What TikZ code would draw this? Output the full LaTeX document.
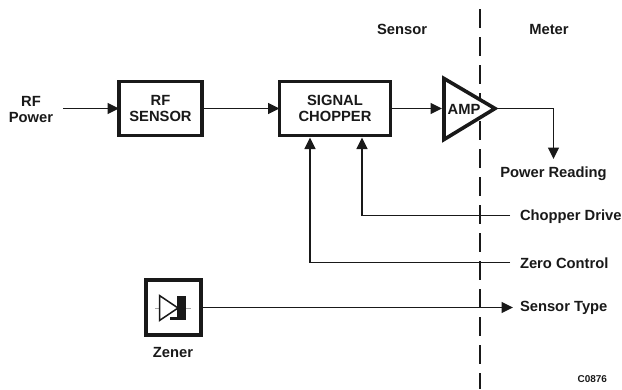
\documentclass[tikz,border=0pt]{standalone}
\usepackage{fontspec}
\setmainfont{Liberation Sans}
\usetikzlibrary{arrows.meta}
\definecolor{ink}{gray}{0.1}
\tikzset{x=1bp,y=-1bp,
 every node/.style={inner sep=0pt,outer sep=0pt,text=ink},
 lbl/.style={font=\fontsize{14.8}{15.5}\selectfont\bfseries,align=center},
 smalllbl/.style={font=\fontsize{10}{12}\selectfont\bfseries},
 blockbox/.style={draw=ink,line width=3.6bp,minimum height=54bp,align=center,font=\fontsize{14.8}{15.5}\selectfont\bfseries,fill=white},
 conn/.style={draw=ink,line width=1.7bp},
 arr/.style={conn,-{Triangle[length=11.5bp,width=11bp]}}}
\begin{document}
\begin{tikzpicture}
\useasboundingbox (0,0) rectangle (622,389);
% dashed boundary
\coordinate (dt) at (480,9);
\coordinate (db) at (480,389);
\draw[draw=ink,line width=1.8bp,dash pattern=on 19bp off 9bp] (dt) -- (db);
% blocks
\node[blockbox,minimum width=83bp] (rf) at (160.5,108.5) {RF\\SENSOR};
\node[blockbox,minimum width=111bp] (chop) at (335,108.5) {SIGNAL\\CHOPPER};
% amp
\coordinate (ampa) at (444,78.5);
\coordinate (ampb) at (444,139.5);
\coordinate (tip) at (495,108.5);
\fill[white] (ampa) -- (tip) -- (ampb) -- cycle;
\draw[draw=ink,line width=3.6bp,line join=miter] (ampa) -- (tip) -- (ampb) -- cycle;
\node[lbl,anchor=center] (amp) at (464,109.5) {AMP};
\coordinate (ampin) at (442,108.5);
% texts
\node[lbl] (rfp) at (31,109.5) {RF\\Power};
\node[lbl] (sensor) at (402,29) {Sensor};
\node[lbl] (meter) at (549,29) {Meter};
\node[lbl] (reading) at (553.5,174) {Power Reading};
\node[lbl,anchor=west] (drive) at (520,217) {Chopper Drive};
\node[lbl,anchor=west] (zero) at (520,263) {Zero Control};
\node[lbl,anchor=west] (stype) at (520,308) {Sensor Type};
\node[lbl] (zlabel) at (173,352) {Zener};
\node[smalllbl,anchor=east] (code) at (607,379) {C0876};
% zener box
\node[draw=ink,line width=4bp,fill=white,minimum width=55bp,minimum height=55bp] (zbox) at (173,307.5) {};
\coordinate (da) at (159.5,295.5);
\coordinate (db2) at (159.5,320.5);
\coordinate (dtip) at (178,308);
\draw[gray!70,line width=1bp] (155,308) -- (da |- dtip);
\draw[gray!70,line width=1bp] (186,308) -- (191,308);
\draw[draw=ink,line width=1.5bp,fill=white] (da) -- (dtip) -- (db2) -- cycle;
\fill[ink] (177,296) rectangle (186,319.5);
\fill[ink] (170,317) rectangle (177,319.5);
% connectors
\coordinate (rfstart) at (63,108.5);
\draw[arr] (rfstart) -- (rf.west);
\draw[arr] (rf.east) -- (chop.west);
\draw[arr] (chop.east) -- (ampin);
\coordinate (pr) at (553.5,108.5);
\coordinate (prend) at (553.5,159);
\draw[conn] (tip) -- (pr);
\draw[arr] (pr) -- (prend);
\coordinate (dr) at (362,215.5);
\coordinate (drend) at (510,215.5);
\draw[arr] (drend) -- (dr) -- (362,137.5);
\coordinate (ze) at (310,262.5);
\coordinate (zeend) at (510,262.5);
\draw[arr] (zeend) -- (ze) -- (310,137.5);
\coordinate (stend) at (513,307.5);
\draw[arr] (zbox.east) -- (stend);
\end{tikzpicture}
\end{document}
